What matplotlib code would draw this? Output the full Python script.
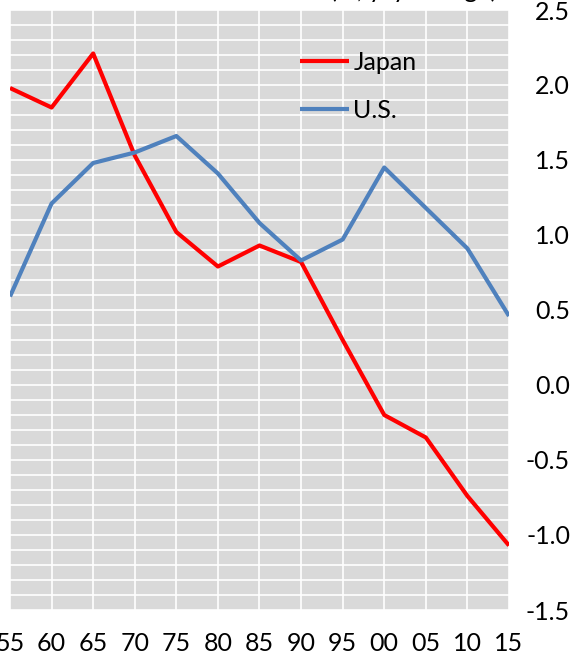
import numpy as np
import matplotlib
matplotlib.use("Agg")
import matplotlib.pyplot as plt
from matplotlib.ticker import MultipleLocator

# Dados
years = [1955, 1960, 1965, 1970, 1975, 1980, 1985, 1990, 1995, 2000, 2005, 2010, 2015]
year_labels = ['55', '60', '65', '70', '75', '80', '85', '90', '95', '00', '05', '10', '15']
japan = [1.98, 1.85, 2.21, 1.53, 1.02, 0.79, 0.93, 0.82, 0.30, -0.20, -0.35, -0.74, -1.07]
us = [0.59, 1.21, 1.48, 1.55, 1.66, 1.41, 1.08, 0.83, 0.97, 1.45, 1.18, 0.91, 0.46]
y_ticks = [-1.5, -1.0, -0.5, 0.0, 0.5, 1.0, 1.5, 2.0, 2.5]

plt.rcParams['font.family'] = ['Lato', 'DejaVu Sans']

W, H = 584, 657
fig = plt.figure(figsize=(W / 100, H / 100), dpi=100)
# area do grafico em pixels: x 10..509, y 10..610
ax = fig.add_axes([10 / W, 1 - 610 / H, 499 / W, 600 / H])
ax.set_facecolor('#D9D9D9')

ax.plot(years, japan, color='#FF0000', lw=3, label='Japan', solid_capstyle='butt')
ax.plot(years, us, color='#4F81BD', lw=3, label='U.S.', solid_capstyle='butt')

ax.set_xlim(1955, 2015)
ax.set_ylim(-1.5, 2.5)
ax.set_xticks(years)
ax.set_xticklabels(year_labels)
ax.set_yticks(y_ticks)
ax.set_yticklabels([f'{v:.1f}' for v in y_ticks])
ax.yaxis.set_minor_locator(MultipleLocator(0.1))

# grade branca
ax.grid(True, which='major', color='white', lw=1.2)
ax.grid(True, which='minor', axis='y', color='white', lw=1.2)
ax.set_axisbelow(True)

for s in ax.spines.values():
    s.set_visible(False)

ax.yaxis.tick_right()
ax.tick_params(axis='both', which='both', length=0, labelsize=18)
ax.tick_params(axis='x', pad=16)
ax.tick_params(axis='y', pad=44)
for t in ax.get_yticklabels():
    t.set_horizontalalignment('right')

leg = ax.legend(loc='upper left', bbox_to_anchor=((300 - 10) / 499, (610 - 51) / 600),
                frameon=False, fontsize=18, handlelength=1.95, handletextpad=0.18,
                labelspacing=0.98, borderpad=0, borderaxespad=0)

# titulo cortado no topo
fig.text(497 / W, 1 + 1.5 / H, '(%, y/y change)', ha='right', va='baseline', fontsize=18)

fig.savefig('out.png', dpi=100)
